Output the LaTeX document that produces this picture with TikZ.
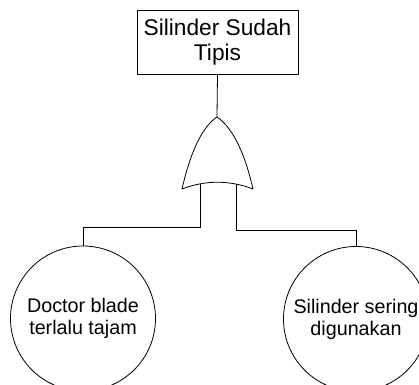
\documentclass[tikz,border=0pt]{standalone}
\usepackage{fontspec}
\setmainfont{Liberation Sans}
\usetikzlibrary{shadows}
\begin{document}
\begin{tikzpicture}[x=1bp,y=-1bp,
  line/.style={line width=0.8bp, draw=black},
  topbox/.style={line, fill=white, rectangle, minimum width=161bp, minimum height=64bp, inner sep=0pt, align=center,
     font=\fontsize{22.8}{25}\selectfont,
     drop shadow={shadow xshift=1.2bp, shadow yshift=-1.2bp, fill=black!45, opacity=1}},
  event/.style={line, circle, minimum size=145bp, inner sep=0pt, align=center,
     font=\fontsize{19.8}{22}\selectfont},
  gateshape/.style={line, line join=round}
]
\useasboundingbox (0,0) rectangle (419,385);
\node[topbox] (top) at (217.5,42) {Silinder Sudah\\Tipis};
\coordinate (gtop) at (217,117);
\coordinate (gl) at (200,184);
\coordinate (gr) at (236,184);
\draw[gateshape] (182,189) .. controls (192,145) and (205,125) .. (gtop)
   .. controls (229,125) and (243,145) .. (253,189)
   .. controls (230,180) and (205,180) .. cycle;
\node[event] (c1) at (83,318.5) {Doctor blade\\terlalu tajam};
\node[event] (c2) at (356,319) {Silinder sering\\digunakan};
\draw[line] (top.south) -- (gtop);
\draw[line] (gl) -- ++(0,43) -| (c1.north);
\draw[line] (gr) -- ++(0,46) -| (c2.north);
\end{tikzpicture}
\end{document}
